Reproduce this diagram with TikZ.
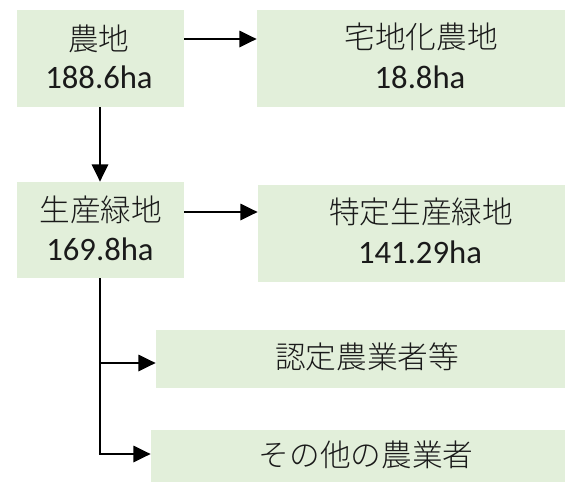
\documentclass[tikz,border=0pt]{standalone}
\usepackage{fontspec}
\setmainfont{Carlito}
\newfontfamily\jp{Noto Sans CJK JP}[UprightFont={* Light}]
\usetikzlibrary{arrows.meta,fit}
\definecolor{boxgreen}{HTML}{E2EFDA}
\definecolor{txt}{HTML}{1A1A1A}
\tikzset{
  box/.style={fill=boxgreen,draw=none,inner sep=0pt},
  jpl/.style={anchor=base,inner sep=0pt,text=txt,font=\jp\fontsize{23}{28}\selectfont},
  numl/.style={anchor=base,inner sep=0pt,text=txt,font=\fontsize{24.5}{29}\selectfont},
  conn/.style={line width=2.2pt,black,-{Triangle[length=13pt,width=12pt]}},
  plain/.style={line width=2.2pt,black}
}
\begin{document}
\begin{tikzpicture}[x=0.75pt,y=-0.75pt]
\useasboundingbox (0,0) rectangle (565,482);
\node[box,fit={(17,10)(184,107)}] (b1) {};
\node[box,fit={(257,10)(565,107)}] (b2) {};
\node[box,fit={(17,182)(184,278)}] (b3) {};
\node[box,fit={(258,185)(565,282)}] (b4) {};
\node[box,fit={(156,330)(565,388)}] (b5) {};
\node[box,fit={(151,430)(565,482)}] (b6) {};
\node[jpl] (t1a) at (99,50) {農地};
\node[numl] (t1b) at (99,88) {188.6ha};
\node[jpl] (t2a) at (421,48) {宅地化農地};
\node[numl] (t2b) at (420,88) {18.8ha};
\node[jpl] (t3a) at (101,221) {生産緑地};
\node[numl] (t3b) at (100,260) {169.8ha};
\node[jpl] (t4a) at (421,223) {特定生産緑地};
\node[numl] (t4b) at (420,263) {141.29ha};
\node[jpl] (t5a) at (367,368) {認定農業者等};
\node[jpl] (t6a) at (366,466) {その他の農業者};
\coordinate (j1) at (100,363);
\coordinate (j2) at (100,454);
\draw[conn] (b1.east |- 0,39) -- (b2.west |- 0,39);
\draw[conn] (b3.east |- 0,212) -- (b4.west |- 0,212);
\draw[conn] (b1.south -| 100,0) -- (b3.north -| 100,0);
\draw[plain] (b3.south -| 100,0) -- (j2);
\draw[conn] (j1) -- (b5.west |- j1);
\draw[conn] ([xshift=-0.8pt]j2) -- (b6.west |- j2);
\end{tikzpicture}
\end{document}
